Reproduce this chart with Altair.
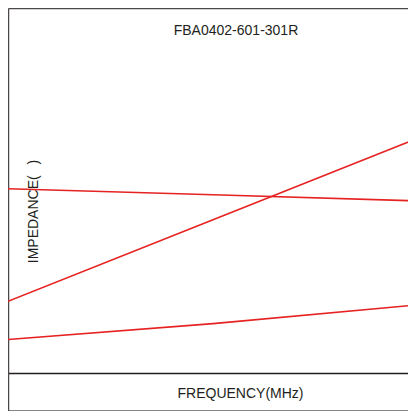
import altair as alt
import pandas as pd

# Frequency (MHz, arbitrary linear units, no ticks shown) and impedance (ohm)
freq = [0, 500, 1000]
series_a = [368.6, 356.4, 344.2]   # nearly flat curve
series_b = [143.4, 306.4, 469.6]   # steep rising curve
series_c = [67.0, 98.8, 136.4]     # low, slowly rising curve
names = ["A", "B", "C"]

rows = []
for name, vals in zip(names, [series_a, series_b, series_c]):
    for f, v in zip(freq, vals):
        rows.append({"series": name, "freq": f, "imp": v})
df = pd.DataFrame(rows)

FONT = "Liberation Sans"
TXT = "#231f20"
FRAME = "#4d4848"

xscale = alt.Scale(domain=[0, 975.6], nice=False, zero=False)

base = alt.Chart(df).encode(
    y=alt.Y(
        "imp:Q",
        scale=alt.Scale(domain=[-76, 730], nice=False, zero=False),
        axis=alt.Axis(
            title="IMPEDANCE( \u2002)",
            domain=True,
            domainColor=FRAME,
            domainWidth=1.5,
            ticks=False,
            labels=False,
            grid=False,
            titleFont=FONT,
            titleFontSize=14,
            titleFontWeight="normal",
            titleColor=TXT,
            titleAngle=270,
            titleAlign="center",
            titleBaseline="alphabetic",
            titleX=29,
            titleY=203,
        ),
    ),
    detail="series:N",
)

lines = base.mark_line(color="#e62222", strokeWidth=1.6, clip=True).encode(
    x=alt.X(
        "freq:Q",
        scale=xscale,
        axis=alt.Axis(
            title="FREQUENCY(MHz)",
            orient="bottom",
            offset=-38,
            domain=True,
            domainColor=TXT,
            domainWidth=1.5,
            ticks=False,
            labels=False,
            grid=False,
            titleFont=FONT,
            titleFontSize=14,
            titleFontWeight="normal",
            titleColor=TXT,
            titleAlign="center",
            titleBaseline="alphabetic",
            titleX=232,
            titleY=24,
        ),
    )
)

top_frame = base.mark_line(strokeOpacity=0).encode(
    x=alt.X(
        "freq:Q",
        scale=xscale,
        axis=alt.Axis(
            title=None, orient="top", domain=True, domainColor=FRAME,
            domainWidth=1.5, ticks=False, labels=False, grid=False,
        ),
    )
)

bottom_frame = base.mark_line(strokeOpacity=0).encode(
    x=alt.X(
        "freq:Q",
        scale=xscale,
        axis=alt.Axis(
            title=None, orient="bottom", offset=-1, domain=True,
            domainColor="#8a8585", domainWidth=1.2, ticks=False,
            labels=False, grid=False,
        ),
    )
)

chart = (
    alt.layer(lines, top_frame, bottom_frame)
    .resolve_axis(x="independent")
    .properties(
        width=400,
        height=403,
        padding=0,
        autosize=alt.AutoSizeParams(type="none"),
        title=alt.TitleParams(
            "FBA0402-601-301R",
            font=FONT,
            fontSize=14,
            fontWeight="normal",
            color=TXT,
            anchor="middle",
            baseline="alphabetic",
            offset=0,
            dx=28,
            dy=41,
        ),
    )
    .configure_view(stroke=None)
)

chart.save("out.html", embed_options={"renderer": "svg", "actions": False})
